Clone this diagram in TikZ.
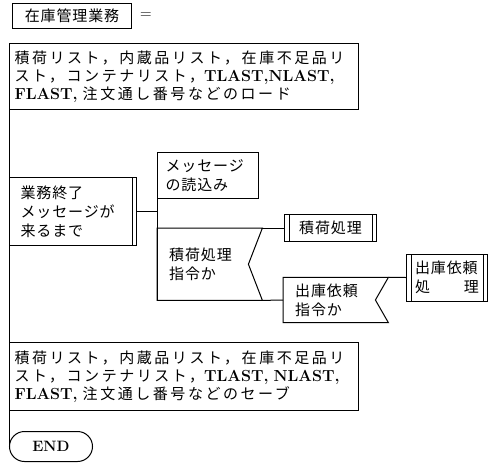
\documentclass[tikz,border=0pt]{standalone}
\usepackage{fontspec}
\newfontfamily\jp[LetterSpace=6]{Noto Sans CJK JP}
\newfontfamily\jpw[LetterSpace=17]{Noto Sans CJK JP}
\newcommand\latn[1]{{\rmfamily\bfseries\fontsize{16}{18}\selectfont #1}}
\tikzset{
  every node/.style={font=\jp\fontsize{15}{19}\selectfont, inner sep=0pt},
  ln/.style={line width=1pt},
  box/.style={draw, line width=1pt, anchor=north west, align=left},
  widebox/.style={box, inner xsep=5pt, text width=339pt, font=\jpw\fontsize{15}{18}\selectfont},
  decn/.style={anchor=north west, align=left, inner xsep=12pt, text width=81pt},
  dblright/.style={path picture={\draw[line width=1pt] ([xshift=-4.5pt]path picture bounding box.north east) -- ([xshift=-4.5pt]path picture bounding box.south east);}},
  dblboth/.style={path picture={
      \draw[line width=1pt] ([xshift=-4.5pt]path picture bounding box.north east) -- ([xshift=-4.5pt]path picture bounding box.south east);
      \draw[line width=1pt] ([xshift=4.5pt]path picture bounding box.north west) -- ([xshift=4.5pt]path picture bounding box.south west);}},
}
\begin{document}
\begin{tikzpicture}[x=1pt,y=-1pt]
\useasboundingbox (0,0) rectangle (492,464);

\node[box, align=center, minimum width=119pt, minimum height=25pt] (title) at (12,3) {在庫管理業務};
\node[font=\rmfamily\fontsize{16}{18}\selectfont] (eq) at (146,16) {=};

\node[widebox, minimum height=66pt] (load) at (9,43)
  {積荷リスト，内蔵品リスト，在庫不足品リ\\スト，コンテナリスト，\latn{TLAST,NLAST,}\\\latn{FLAST,} 注文通し番号などのロード};

\node[box, dblright, text width=105pt, inner xsep=11pt, minimum height=68pt] (loop) at (9,177)
  {業務終了\\メッセージが\\来るまで};

\node[box, text width=85pt, inner xsep=8pt, minimum height=46pt] (msg) at (157,152)
  {メッセージ\\の読込み};

\node[decn, minimum height=72pt] (dec1) at (157,228) {積荷処理\\指令か};
\draw[ln] (dec1.north west) -- (dec1.north east) -- ([xshift=-14pt]dec1.east) -- (dec1.south east) -- (dec1.south west) -- cycle;

\node[box, dblboth, align=center, minimum width=92pt, minimum height=27pt, anchor=west] (sk) at (284,228) {積荷処理};

\node[decn, minimum height=45pt, anchor=west] (dec2) at (283,300) {出庫依頼\\指令か};
\draw[ln] (dec2.north west) -- (dec2.north east) -- ([xshift=-13pt]dec2.east) -- (dec2.south east) -- (dec2.south west) -- cycle;

\node[box, dblboth, minimum width=81pt, minimum height=47pt, anchor=west] (sb) at (406,277.5)
  {出庫依頼\\\hbox to 64pt{処\hfil 理}};

\node[widebox, minimum height=68pt] (save) at (9,342)
  {積荷リスト，内蔵品リスト，在庫不足品リ\\スト，コンテナリスト，\latn{TLAST, NLAST,}\\\latn{FLAST,} 注文通し番号などのセーブ};

\node[draw, line width=1pt, rounded corners=15pt, anchor=north west, minimum width=83pt, minimum height=30pt,
      font=\rmfamily\bfseries\fontsize{15}{18}\selectfont] (END) at (9,431) {END};

\draw[ln] (load.north west) -- (END.west);
\draw[ln] (loop.east) -- (loop.east -| msg.west);
\draw[ln] (msg.north west) -- (dec1.south west);
\draw[ln] (dec1.north east) -- (dec1.north east -| sk.west);
\draw[ln] (dec1.south east) -- (dec2.west);
\draw[ln] (dec2.north east) -- (sb.west);
\end{tikzpicture}
\end{document}
